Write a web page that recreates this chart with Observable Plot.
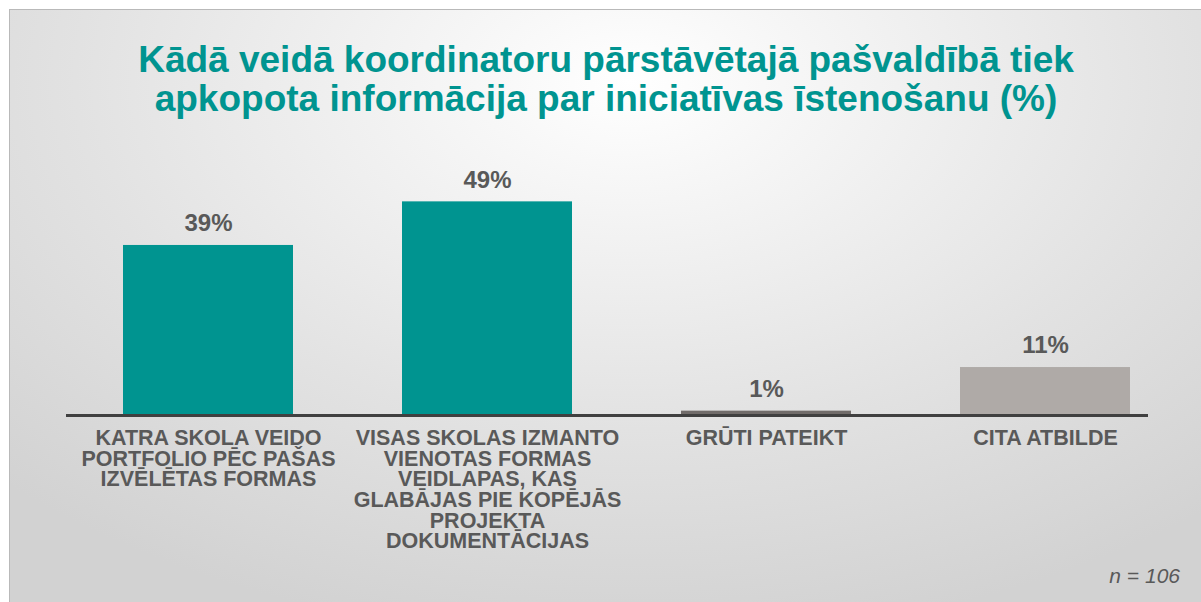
<!DOCTYPE html>
<html>
<head>
<meta charset="utf-8">
<script src="https://cdn.jsdelivr.net/npm/d3@7"></script>
<script src="https://cdn.jsdelivr.net/npm/@observablehq/plot@0.6"></script>
<style>
  html, body { margin: 0; padding: 0; background: #ffffff; }
  body { width: 1201px; height: 602px; overflow: hidden; position: relative; font-family: "Liberation Sans", Arial, sans-serif; }
  #panel {
    position: absolute; left: 9px; top: 9px; width: 1192px; height: 593px;
    border-top: 1px solid #b9b9b9; border-left: 1px solid #b9b9b9;
    background: radial-gradient(ellipse 75% 95% at 52% 12%, #ffffff 0%, #f1f1f1 30%, #e2e2e2 62%, #d2d2d2 100%);
    box-sizing: border-box;
  }
  #title {
    position: absolute; left: 0; width: 1192px; top: 30px; text-align: center;
    color: #009490; font-weight: bold; font-size: 37px; line-height: 39px;
    font-family: "Liberation Sans", Arial, sans-serif;
  }
  #chart { position: absolute; left: -1px; top: 131px; }
  #caption {
    position: absolute; right: 21px; top: 554px; font-style: italic;
    font-size: 21px; color: #595959; font-family: "Liberation Sans", Arial, sans-serif;
  }
</style>
</head>
<body>
<div id="panel">
  <div id="title">Kādā veidā koordinatoru pārstāvētajā pašvaldībā tiek<br>apkopota informācija par iniciatīvas īstenošanu (%)</div>
  <div id="chart"></div>
  <div id="caption">n = 106</div>
</div>
<script>
const categories = ["Katra skola veido portfolio", "Visas skolas izmanto vienotas formas", "Grūti pateikt", "Cita atbilde"];
const values = [39, 49, 1, 11];
const labels = [
  "KATRA SKOLA VEIDO\nPORTFOLIO PĒC PAŠAS\nIZVĒLĒTAS FORMAS",
  "VISAS SKOLAS IZMANTO\nVIENOTAS FORMAS\nVEIDLAPAS, KAS\nGLABĀJAS PIE KOPĒJĀS\nPROJEKTA\nDOKUMENTĀCIJAS",
  "GRŪTI PATEIKT",
  "CITA ATBILDE"
];
const palette = ["#009490", "#009490", "#716c6a", "#afaaa7"];

const data = categories.map((c, i) => ({category: c, value: values[i], label: labels[i]}));

const chart = Plot.plot({
  width: 1192,
  height: 440,
  marginTop: 56,
  marginBottom: 166,
  marginLeft: 57,
  marginRight: 53,
  style: {background: "transparent", fontFamily: "Liberation Sans, Arial, sans-serif"},
  x: {domain: categories, range: [113, 1121.5], paddingInner: 0.392, paddingOuter: 0, axis: null},
  y: {domain: [0, 50], axis: null},
  color: {domain: categories, range: palette},
  marks: [
    Plot.barY(data, {x: "category", y: "value", fill: "category"}),
    Plot.ruleY([0], {stroke: "#404040", strokeWidth: 3}),
    Plot.text(data, {x: "category", y: "value", text: d => d.value + "%", dy: -22,
      fontSize: 24, fontWeight: "bold", fill: "#595959"}),
    Plot.text(data, {x: "category", y: () => 0, text: "label", lineAnchor: "top", dy: 15,
      fontSize: 21.5, lineHeight: 0.96, fontWeight: "bold", fill: "#595959"})
  ]
});
document.getElementById("chart").appendChild(chart);
</script>
</body>
</html>
